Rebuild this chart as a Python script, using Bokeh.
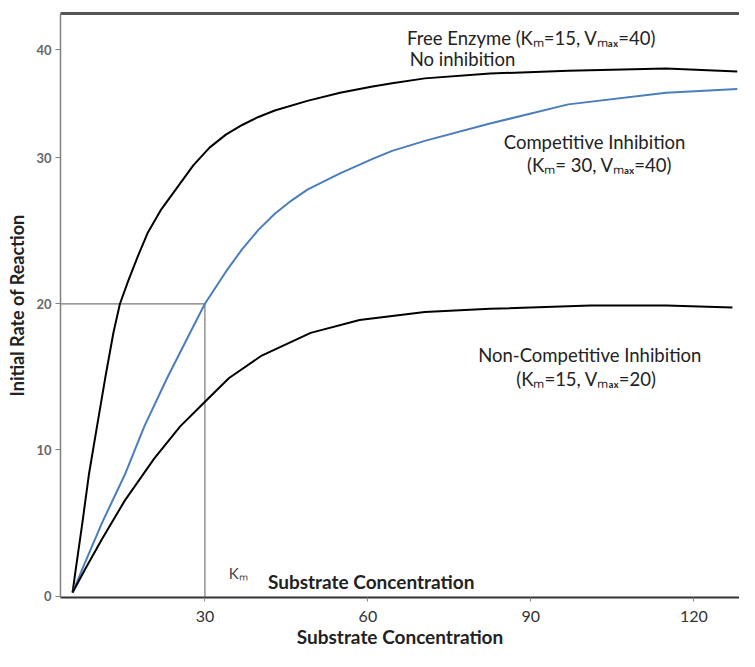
from bokeh.plotting import figure
from bokeh.models import Range1d, FixedTicker, LinearAxis, ColumnDataSource
from bokeh.core.properties import value
from bokeh.embed import file_html
from bokeh.resources import INLINE

# ---- data ----
free_x = [5.64, 6.25, 7.44, 8.64, 10.14, 11.65, 13.15, 14.35, 15.85, 17.65, 19.45, 21.84, 24.85,
          27.86, 30.85, 33.86, 36.86, 39.85, 42.86, 48.86, 54.87, 60.87, 64.47, 70.47, 82.48,
          96.88, 114.9, 128.0]
free_y = [0.24, 1.90, 4.99, 8.30, 11.61, 14.92, 18.0, 19.99, 21.53, 23.25, 24.84, 26.39, 27.94,
          29.48, 30.69, 31.58, 32.24, 32.79, 33.23, 33.89, 34.44, 34.88, 35.1, 35.43, 35.76,
          35.96, 36.1, 35.9]

comp_x = [5.64, 7.74, 11.04, 15.25, 18.85, 23.05, 27.25, 30.0, 33.86, 36.86, 39.85, 42.86, 45.87,
          48.86, 54.87, 60.87, 64.47, 70.47, 82.48, 96.88, 114.9, 128.0]
comp_y = [0.24, 2.12, 4.99, 8.30, 11.61, 14.92, 18.0, 20.0, 22.2, 23.74, 25.06, 26.17, 27.05,
          27.82, 28.93, 29.92, 30.47, 31.15, 32.34, 33.65, 34.45, 34.71]

noncomp_x = [5.64, 8.05, 11.04, 15.25, 20.66, 25.45, 30.25, 34.45, 40.46, 49.47, 58.47, 70.47,
             82.48, 101.0, 114.9, 127.1]
noncomp_y = [0.24, 1.90, 3.88, 6.53, 9.40, 11.61, 13.38, 14.92, 16.46, 18.01, 18.89, 19.44,
             19.66, 19.88, 19.88, 19.75]

km_x = 30          # Km of competitive inhibition
half_v = 20        # Vmax/2

x_ticks = [30, 60, 90, 120]
y_ticks = [0, 10, 20, 30, 37.4]
y_tick_labels = ["0", "10", "20", "30", "40"]

FONT = "Lato"

p = figure(width=739, height=651, output_backend="svg", toolbar_location=None,
           x_range=Range1d(3.42, 128.4), y_range=Range1d(-0.1, 39.87),
           min_border_left=60, min_border_right=0, min_border_top=13, min_border_bottom=54)
p.outline_line_color = None
p.grid.visible = False
p.background_fill_color = "white"
p.border_fill_color = "white"

# x axis
xa = p.xaxis[0]
xa.ticker = FixedTicker(ticks=x_ticks)
xa.axis_line_color = "#333333"
xa.axis_line_width = 2
xa.major_tick_line_color = "#888888"
xa.major_tick_out = 4
xa.major_tick_in = 0
xa.minor_tick_line_color = None
xa.major_label_text_font = FONT
xa.major_label_text_font_size = "16px"
xa.major_label_text_color = "#333333"
xa.major_label_standoff = 9
xa.axis_label = "Substrate Concentration"
xa.axis_label_text_font = FONT
xa.axis_label_text_font_style = "bold"
xa.axis_label_text_font_size = "19px"
xa.axis_label_text_color = "#222222"
xa.axis_label_standoff = 0

# y axis
ya = p.yaxis[0]
ya.ticker = FixedTicker(ticks=y_ticks)
ya.major_label_overrides = {t: l for t, l in zip(y_ticks, y_tick_labels)}
ya.axis_line_color = "#808080"
ya.axis_line_width = 1.5
ya.major_tick_line_color = "#808080"
ya.major_tick_out = 5
ya.major_tick_in = 0
ya.minor_tick_line_color = None
ya.major_label_text_font = FONT
ya.major_label_text_font_size = "13px"
ya.major_label_text_font_style = "bold"
ya.major_label_text_color = "#666666"
ya.major_label_standoff = 4
ya.axis_label = "Initial Rate of Reaction"
ya.axis_label_text_font = FONT
ya.axis_label_text_font_style = "bold"
ya.axis_label_text_font_size = "18px"
ya.axis_label_text_color = "#222222"
ya.axis_label_standoff = 5

# top border line as an empty axis
top = LinearAxis(ticker=FixedTicker(ticks=[]), major_label_text_font_size="0px",
                 axis_line_color="#555555", axis_line_width=3,
                 major_tick_line_color=None, minor_tick_line_color=None)
p.add_layout(top, "above")

# Km guide lines
p.line([p.x_range.start, km_x], [half_v, half_v], line_color="#777777", line_width=1.2)
p.line([km_x, km_x], [-0.1, half_v], line_color="#777777", line_width=1.2)

# curves
p.line(free_x, free_y, line_color="black", line_width=2)
p.line(comp_x, comp_y, line_color="#4a7ebb", line_width=2)
p.line(noncomp_x, noncomp_y, line_color="black", line_width=2)

labels = ColumnDataSource(dict(
    x=[67.2, 67.7, 85.0, 89.3, 80.3, 87.3],
    y=[38.2, 36.76, 31.07, 29.48, 16.5, 14.85],
    t=["Free Enzyme (K\u2098=15, V\u2098\u2090\u2093=40)", "No inhibition",
       "Competitive Inhibition", "(K\u2098= 30, V\u2098\u2090\u2093=40)",
       "Non-Competitive Inhibition", "(K\u2098=15, V\u2098\u2090\u2093=20)"],
))
p.text(x="x", y="y", text="t", source=labels, text_font=value(FONT), text_font_size="18.5px",
       text_color="#222222", text_align="left", text_baseline="middle")

p.text(x=[34.4], y=[1.55], text=["K\u2098"], text_font=value(FONT), text_font_size="15px",
       text_color="#444444", text_align="left", text_baseline="middle")
p.text(x=[41.6], y=[1.02], text=["Substrate Concentration"], text_font=value(FONT),
       text_font_size="19px", text_font_style="bold", text_color="#222222",
       text_align="left", text_baseline="middle")

open("out.html", "w").write(file_html(p, INLINE))
